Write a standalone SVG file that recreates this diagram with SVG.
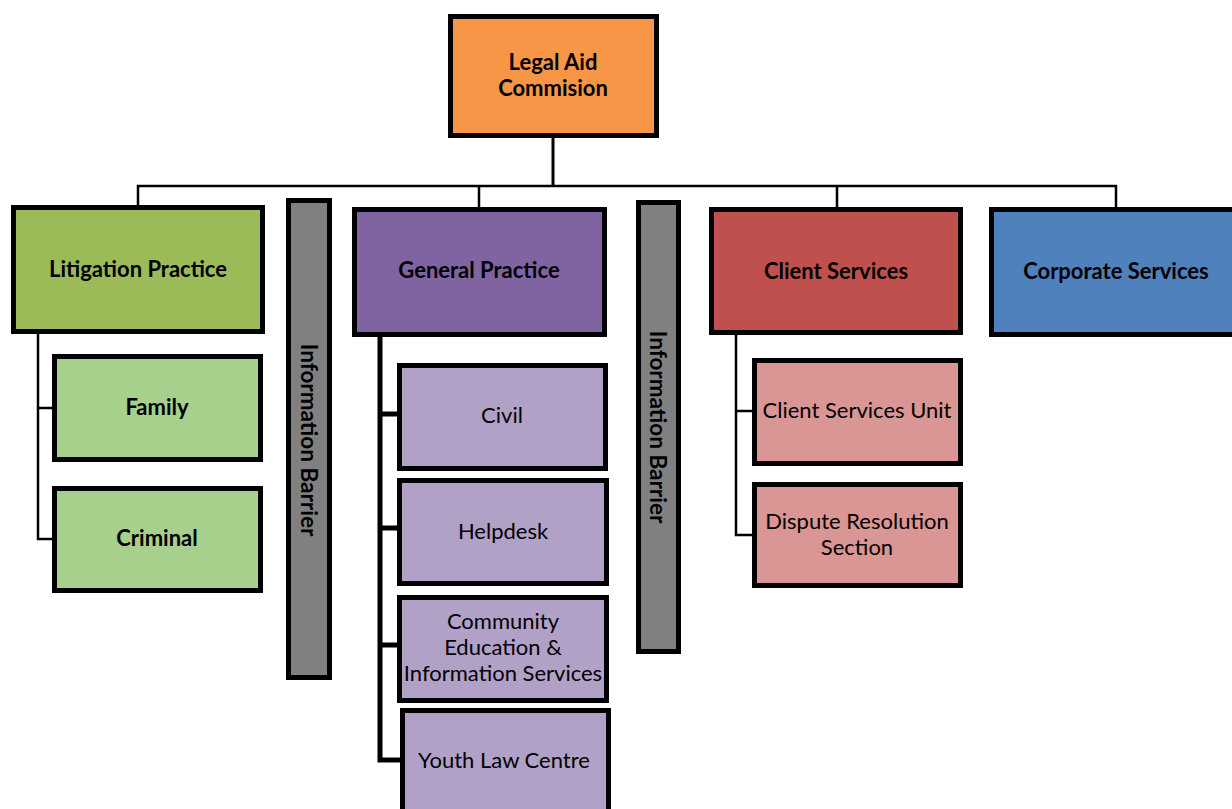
<svg xmlns="http://www.w3.org/2000/svg" width="1232" height="809" viewBox="0 0 1232 809">
<style>
.box{stroke:#000;stroke-width:5}
.t{font-family:Lato,"Liberation Sans",sans-serif;font-size:22px;fill:#000;text-anchor:middle}
.b{font-weight:bold}
.v{font-size:22.5px}
.ln{stroke:#000;fill:none}
</style>
<rect width="1232" height="809" fill="#fff"/>
<g id="connectors">
<path class="ln" stroke-width="3" d="M553,138V186"/>
<path class="ln" stroke-width="2.5" d="M138,205V186H1116V207M479,186V207M837,186V207"/>
<path class="ln" stroke-width="2.5" d="M38,334V539H52M38,408H52"/>
<path class="ln" stroke-width="5" d="M380,337V760H400M380,414H397M380,528H397M380,645H397"/>
<path class="ln" stroke-width="2.5" d="M736,335V535H752M736,411H752"/>
</g>
<g id="legal-aid"><rect class="box" x="450.5" y="16.5" width="206" height="119" fill="#F79646"/><text class="t b" x="553" y="70">Legal Aid</text><text class="t b" x="553" y="96">Commision</text></g>
<g id="litigation"><rect class="box" x="13.5" y="207.5" width="249" height="124" fill="#9BBB59"/><text class="t b" x="138" y="277">Litigation Practice</text></g>
<g id="family"><rect class="box" x="54.5" y="356.5" width="206" height="103" fill="#A8D08D"/><text class="t b" x="157" y="415">Family</text></g>
<g id="criminal"><rect class="box" x="54.5" y="488.5" width="206" height="102" fill="#A8D08D"/><text class="t b" x="157" y="546">Criminal</text></g>
<g id="barrier1"><rect class="box" x="288.5" y="200.5" width="41" height="477" fill="#808080"/><text class="t b v" transform="translate(301,440) rotate(90)">Information Barrier</text></g>
<g id="general"><rect class="box" x="354.5" y="209.5" width="250" height="125" fill="#8064A2"/><text class="t b" x="479" y="278">General Practice</text></g>
<g id="civil"><rect class="box" x="399.5" y="365.5" width="206" height="103" fill="#B2A1C7"/><text class="t" x="502" y="423">Civil</text></g>
<g id="helpdesk"><rect class="box" x="399.5" y="480.5" width="207" height="103" fill="#B2A1C7"/><text class="t" x="503" y="539">Helpdesk</text></g>
<g id="community"><rect class="box" x="399.5" y="597.5" width="207" height="103" fill="#B2A1C7"/><text class="t" x="503" y="629">Community</text><text class="t" x="503" y="655">Education &amp;</text><text class="t" x="503" y="681">Information Services</text></g>
<g id="youth"><rect class="box" x="402.5" y="710.5" width="206" height="110" fill="#B2A1C7"/><text class="t" x="504" y="768">Youth Law Centre</text></g>
<g id="barrier2"><rect class="box" x="638.5" y="202.5" width="40" height="449" fill="#808080"/><text class="t b v" transform="translate(650,427) rotate(90)">Information Barrier</text></g>
<g id="client"><rect class="box" x="711.5" y="209.5" width="249" height="123" fill="#C0504D"/><text class="t b" x="836" y="279">Client Services</text></g>
<g id="corporate"><rect class="box" x="991.5" y="209.5" width="250" height="125" fill="#4F81BD"/><text class="t b" x="1116" y="279">Corporate Services</text></g>
<g id="csu"><rect class="box" x="754.5" y="360.5" width="206" height="103" fill="#D99694"/><text class="t" x="857" y="418">Client Services Unit</text></g>
<g id="drs"><rect class="box" x="754.5" y="484.5" width="206" height="101" fill="#D99694"/><text class="t" x="857" y="529">Dispute Resolution</text><text class="t" x="857" y="555">Section</text></g>
</svg>
